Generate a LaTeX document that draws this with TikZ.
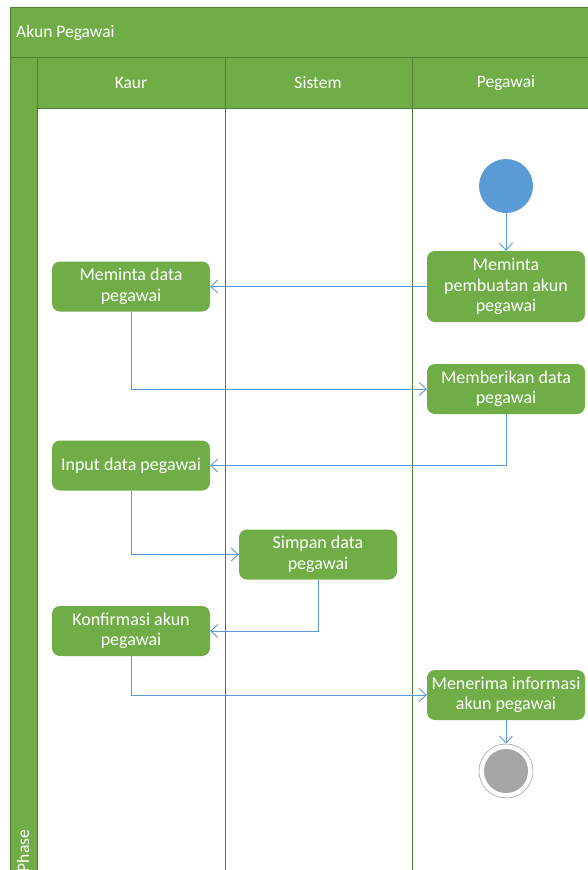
\documentclass[tikz,border=0pt]{standalone}
\usepackage{fontspec}
\setmainfont{Carlito}
\usetikzlibrary{arrows.meta}
\definecolor{laneGreen}{HTML}{70AD47}
\definecolor{edgeGreen}{HTML}{507E32}
\definecolor{flowBlue}{HTML}{5B9BD5}
\definecolor{endGray}{HTML}{A6A6A6}

\begin{document}
\begin{tikzpicture}[x=1pt, y=-1pt,
  band/.style={fill=laneGreen, draw=edgeGreen, line width=1pt},
  laneline/.style={draw=edgeGreen, line width=0.8pt},
  headtext/.style={text=white, font=\fontsize{17.5}{20.5}\selectfont, inner sep=0pt},
  act/.style={rounded corners=8pt, fill=laneGreen, text=white, minimum width=158pt,
    minimum height=50pt, align=center, inner sep=2pt, font=\fontsize{18}{20.5}\selectfont},
  flow/.style={draw=flowBlue, line width=0.9pt, -{Straight Barb[length=7pt, width=13pt]}}]
  \clip (0,0) rectangle (588,870);
  \fill[white] (0,0) rectangle (588,870);
  \filldraw[band] (10,7) rectangle (600,57);
  \filldraw[band] (10,57) rectangle (37,880);
  \filldraw[band] (37,57) rectangle (600,108);
  \draw[laneline] (225,57) -- (225,880);
  \draw[laneline] (412,57) -- (412,880);
  \node[headtext, anchor=west] (title) at (16,33) {Akun Pegawai};
  \node[headtext] (kaur) at (131,83) {Kaur};
  \node[headtext] (sistem) at (318,83) {Sistem};
  \node[headtext] (pegawai) at (506,83) {Pegawai};
  \node[headtext, rotate=90] (phase) at (23,851) {Phase};
  \node[circle, fill=flowBlue, minimum size=54pt, inner sep=0pt] (start) at (506,186) {};
  \node[act, minimum height=71pt] (mintaakun) at (506,286.5) {Meminta\\pembuatan akun\\pegawai};
  \node[act] (mintadata) at (131,286.5) {Meminta data\\pegawai};
  \node[act] (berikan) at (506,389) {Memberikan data\\pegawai};
  \node[act] (input) at (131,465.5) {Input data pegawai};
  \node[act] (simpan) at (318,554.5) {Simpan data\\pegawai};
  \node[act] (konfirmasi) at (131,631) {Konfirmasi akun\\pegawai};
  \node[act] (terima) at (506,695) {Menerima informasi\\akun pegawai};
  \node[circle, draw=endGray, line width=0.6pt, fill=white, minimum size=54pt, inner sep=0pt] (finish) at (506,771) {};
  \node[circle, fill=endGray, minimum size=44pt, inner sep=0pt] (finishdot) at (506,771) {};
  \draw[flow] (start) -- (mintaakun);
  \draw[flow] (mintaakun) -- (mintadata);
  \draw[flow] (mintadata.south) |- (berikan.west);
  \draw[flow] (berikan.south) |- (input.east);
  \draw[flow] (input.south) |- (simpan.west);
  \draw[flow] (simpan.south) |- (konfirmasi.east);
  \draw[flow] (konfirmasi.south) |- (terima.west);
  \draw[flow] (terima) -- (finish);
\end{tikzpicture}
\end{document}
